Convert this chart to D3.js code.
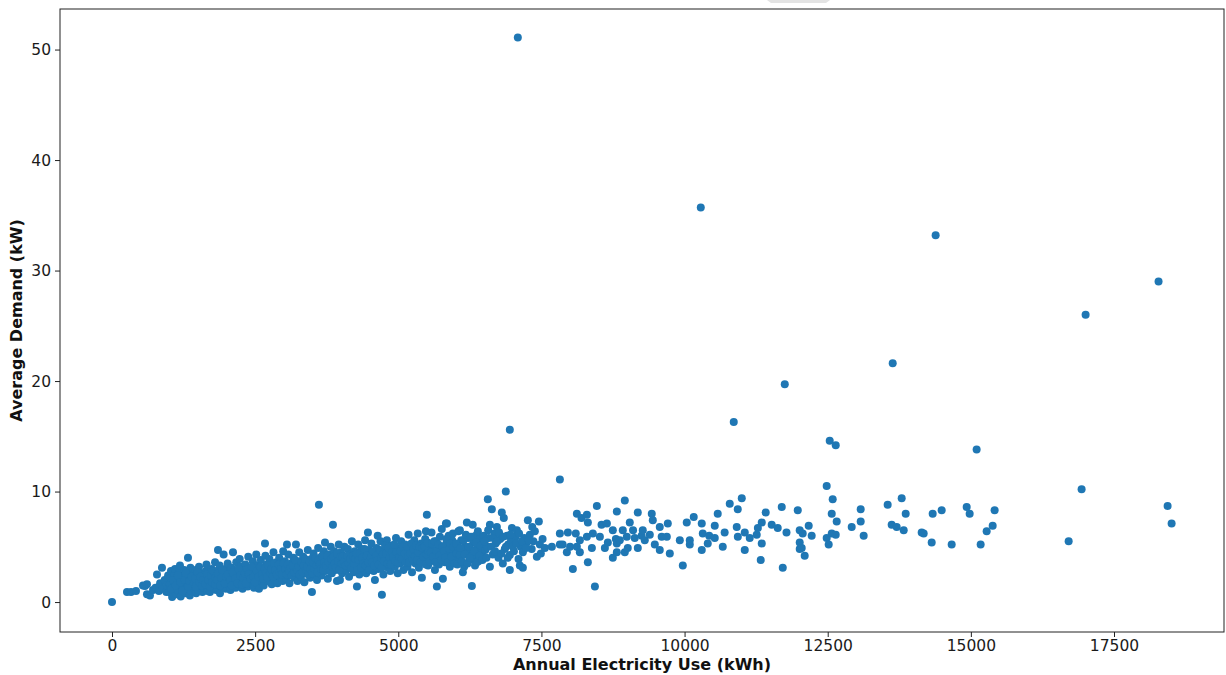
<!DOCTYPE html>
<html><head><meta charset="utf-8">
<script src="https://cdn.jsdelivr.net/npm/d3@7"></script>
<style>body{margin:0;background:#fff} svg{display:block} text{font-family:"DejaVu Sans",sans-serif}</style>
</head><body><svg id="c" width="1226" height="675"></svg>
<script>
// [Annual Electricity Use (kWh), Average Demand (kW)]
const lowPoints = [
[0,0],[262,0.9],[332,0.9],[419,1.0],[541,1.5],[576,1.45],[611,1.6],[611,0.7],[663,0.6],[716,1.1],[760,1.3],[786,2.5],[820,1.0],[840,1.7],[873,3.1],[890,1.2],[920,2.0],[950,0.9],[960,1.5],[980,2.4]
];
const densePoints = [
[1000,0.9],[1010,1.6],[1020,2.2],[1030,2.8],[1050,0.45],[1070,1.3],[1080,1.9],[1090,2.5],[1100,3.0],[1120,0.7],[1140,1.1],[1160,1.6],[1170,2.1],[1180,2.7],[1187,3.3],[1200,0.5],[1220,1.4],[1240,1.9],[1250,2.4],[1260,2.9],[1280,0.8],[1300,1.2],[1310,1.7],[1320,2.2],[1327,4.0],[1340,2.7],[1360,0.6],[1370,3.1],[1380,1.0],[1400,1.5],[1410,2.0],[1420,2.5],[1440,1.2],[1460,2.9],[1470,0.8],[1480,1.8],[1490,2.3],
[1510,1.1],[1520,3.2],[1540,1.5],[1550,2.0],[1560,2.6],[1580,0.9],[1600,1.3],[1610,1.8],[1620,2.3],[1640,2.8],[1650,3.4],[1670,1.0],[1690,1.6],[1700,2.1],[1711,0.9],[1720,2.6],[1740,3.0],[1760,1.3],[1780,1.9],[1790,2.4],[1800,3.6],[1820,1.1],[1830,2.8],[1851,4.7],[1860,1.6],[1870,2.2],[1880,3.3],[1886,0.8],[1900,2.7],[1920,1.4],[1940,1.9],[1950,4.3],[1960,2.5],[1980,3.0],[1990,1.2],
[2010,2.1],[2020,3.5],[2040,1.6],[2050,2.7],[2070,1.1],[2080,3.1],[2100,2.3],[2113,4.5],[2120,1.8],[2140,2.9],[2160,1.3],[2170,3.6],[2180,2.2],[2200,2.6],[2220,1.6],[2230,3.9],[2250,3.2],[2260,2.0],[2280,1.2],[2300,2.8],[2310,1.9],[2330,3.4],[2350,2.4],[2370,1.4],[2380,4.1],[2400,2.1],[2410,3.0],[2430,1.7],[2450,2.6],[2460,3.7],[2480,1.3],[2490,2.9],
[2510,2.2],[2520,4.3],[2540,3.3],[2550,1.8],[2567,1.2],[2580,2.6],[2600,3.8],[2610,2.0],[2630,3.0],[2650,1.5],[2660,2.5],[2672,5.3],[2680,4.2],[2700,3.4],[2720,1.9],[2740,2.8],[2750,3.9],[2770,2.3],[2790,1.6],[2800,3.2],[2820,4.5],[2840,2.6],[2860,2.0],[2870,3.6],[2890,1.7],[2900,2.9],[2920,4.0],[2940,2.3],[2960,3.3],[2980,1.9],[2990,4.6],
[3010,2.7],[3020,3.7],[3040,2.1],[3056,5.2],[3060,3.1],[3080,4.3],[3100,1.7],[3110,2.5],[3130,3.5],[3150,2.9],[3170,4.0],[3190,2.2],[3213,5.2],[3220,3.3],[3240,1.9],[3250,2.7],[3270,4.5],[3290,3.7],[3300,2.3],[3320,3.0],[3340,4.1],[3360,1.8],[3380,2.6],[3400,3.5],[3420,4.7],[3440,2.9],[3460,2.2],[3480,3.9],[3492,0.9],[3500,3.2],
[3520,4.4],[3540,2.5],[3560,3.6],[3580,2.0],[3600,4.9],[3614,8.8],[3620,3.0],[3640,4.0],[3660,2.4],[3680,3.4],[3700,4.6],[3720,5.4],[3730,2.8],[3750,3.8],[3770,2.1],[3790,4.3],[3800,3.1],[3820,5.0],[3840,2.6],[3859,7.0],[3860,3.6],[3880,4.6],[3900,2.9],[3920,4.0],[3929,1.9],[3940,3.3],[3960,5.2],[3981,2.0],[3990,3.8],
[4000,4.5],[4020,2.6],[4040,3.2],[4060,5.0],[4070,4.0],[4090,2.9],[4100,3.6],[4120,4.8],[4140,2.3],[4150,3.1],[4170,4.3],[4190,5.5],[4200,3.7],[4220,2.7],[4240,4.6],[4260,3.3],[4278,1.4],[4290,4.1],[4300,5.2],[4320,2.5],[4340,3.6],[4360,4.8],[4380,3.0],[4400,4.2],[4420,5.6],[4440,2.6],[4460,3.8],[4470,6.3],[4490,4.7],
[4510,3.2],[4530,5.3],[4550,4.1],[4570,2.8],[4592,2.0],[4600,3.6],[4620,4.9],[4640,6.0],[4650,3.0],[4670,4.3],[4690,5.5],[4714,0.65],[4720,3.5],[4740,2.5],[4760,4.7],[4780,3.9],[4800,5.6],[4820,3.1],[4840,4.4],[4860,2.8],[4880,5.1],[4900,3.7],[4920,4.6],[4940,3.2],[4960,5.8],[4980,4.0],[4990,2.6],
[5010,4.9],[5030,3.5],[5050,5.5],[5070,4.3],[5090,2.9],[5100,3.9],[5120,5.2],[5140,4.6],[5160,3.2],[5180,6.1],[5200,3.8],[5220,4.9],[5240,2.7],[5260,4.3],[5280,5.6],[5300,3.5],[5320,4.7],[5340,6.2],[5360,3.1],[5380,4.0],[5400,5.3],[5412,2.2],[5430,4.5],[5450,3.6],[5470,5.7],[5482,6.4],[5499,7.9],[5500,4.9],
[5520,3.3],[5540,4.2],[5560,5.1],[5580,6.3],[5600,3.8],[5620,4.7],[5640,2.9],[5660,5.5],[5674,1.4],[5690,4.1],[5710,3.4],[5727,5.9],[5740,4.9],[5760,6.6],[5779,2.1],[5790,3.9],[5814,3.6],[5830,5.2],[5832,7.1],[5849,7.1],[5860,4.4],[5880,6.0],[5900,3.2],[5920,4.8],[5940,5.6],[5954,6.2],[5970,3.9],[5990,4.5]
];
const denseCorePoints = [
[1035,1.2],[1065,2.0],[1110,1.5],[1150,2.4],[1195,1.8],[1230,1.0],[1270,2.0],[1290,2.6],[1330,1.4],[1350,1.9],[1390,2.3],[1430,1.7],[1450,2.1],[1465,1.4],[1495,2.7],
[1525,1.8],[1545,2.3],[1575,1.5],[1590,2.0],[1630,1.6],[1660,2.5],[1680,2.0],[1710,1.4],[1730,2.4],[1750,1.8],[1770,2.8],[1800,1.6],[1810,2.2],[1840,2.0],[1850,2.6],[1890,1.5],[1910,2.2],[1930,2.9],[1970,1.7],[1995,2.3],
[2025,2.5],[2060,2.0],[2090,1.5],[2110,2.7],[2150,2.1],[2190,1.7],[2210,3.0],[2240,2.4],[2270,1.6],[2290,2.2],[2320,2.6],[2340,1.7],[2360,3.0],[2390,2.5],[2420,2.1],[2440,3.2],[2470,2.3],[2495,1.8],
[2530,2.8],[2560,2.3],[2590,3.2],[2620,2.5],[2640,2.1],[2670,3.0],[2690,2.6],[2710,2.3],[2730,3.3],[2760,2.7],[2780,3.0],[2810,2.3],[2830,3.5],[2850,2.9],[2880,2.5],[2910,3.4],[2930,2.7],[2950,3.0],[2970,2.5],[2995,3.5],
[3030,3.0],[3050,2.5],[3070,3.4],[3090,2.8],[3120,3.1],[3140,2.4],[3160,3.3],[3180,2.7],[3200,3.8],[3230,2.9],[3260,3.2],[3280,2.5],[3310,3.6],[3330,2.7],[3350,3.3],[3370,3.9],[3390,2.9],[3410,3.2],[3430,2.5],[3450,3.7],[3470,3.0],[3495,2.6],
[3510,3.6],[3530,3.0],[3550,4.0],[3570,3.3],[3590,2.7],[3610,3.8],[3630,3.4],[3650,3.0],[3670,4.2],[3690,2.9],[3710,3.6],[3740,3.3],[3760,4.2],[3780,3.6],[3810,2.8],[3830,3.9],[3850,3.2],[3870,4.1],[3890,3.5],[3910,3.1],[3930,4.4],[3950,3.7],[3970,2.9],[3995,4.1],
[4010,3.5],[4030,4.1],[4050,3.7],[4080,3.3],[4110,4.2],[4130,3.5],[4160,3.9],[4180,3.1],[4210,4.2],[4230,3.5],[4250,3.9],[4270,4.4],[4280,2.9],[4310,3.8],[4330,4.4],[4350,3.1],[4370,4.0],[4390,3.5],[4410,4.8],[4430,3.3],[4450,4.2],[4480,3.6],[4495,2.9],
[4520,4.0],[4540,3.6],[4560,4.6],[4580,3.3],[4610,4.2],[4630,3.8],[4660,3.4],[4680,4.7],[4700,4.0],[4710,3.1],[4730,4.3],[4750,3.7],[4770,5.1],[4790,4.4],[4810,3.5],[4830,4.9],[4850,4.0],[4870,3.4],[4890,4.5],[4910,4.1],[4930,5.2],[4950,3.7],[4970,4.5],[4995,3.6],
[5020,4.1],[5040,4.6],[5060,3.9],[5080,5.0],[5110,4.4],[5130,3.6],[5150,5.0],[5170,4.1],[5190,3.6],[5210,4.4],[5230,5.3],[5250,3.9],[5270,4.8],[5290,4.1],[5310,5.1],[5330,3.8],[5350,4.5],[5370,5.0],[5390,3.6],[5420,4.9],[5440,4.1],[5460,5.0],[5480,3.4],[5495,4.3],
[5510,5.4],[5530,4.6],[5550,3.7],[5570,4.5],[5590,5.3],[5610,4.1],[5630,5.5],[5650,3.6],[5670,4.6],[5700,5.2],[5720,4.2],[5750,3.8],[5770,5.0],[5800,4.6],[5820,4.0],[5840,5.7],[5870,3.6],[5890,4.8],[5910,5.3],[5930,4.1],[5960,5.0],[5980,3.5],
[6020,4.4],[6040,5.0],[6060,3.9],[6100,5.6],[6120,4.6],[6150,3.2],[6170,5.0],[6200,4.4],[6220,5.8],[6240,3.8],[6260,4.8],[6290,3.9],[6310,5.4],[6330,4.3],[6350,6.0],[6380,4.9],[6400,3.7],[6430,5.8],[6460,4.5],[6480,5.4]
];
const midPoints = [
[6010,5.3],[6030,3.4],[6050,6.4],[6076,6.5],[6076,4.25],[6090,4.9],[6110,3.7],[6128,2.7],[6140,5.6],[6160,4.3],[6180,6.1],[6198,7.2],[6210,3.5],[6230,5.0],[6250,4.0],[6270,5.9],[6285,1.45],[6300,7.0],[6320,4.6],[6340,3.3],[6360,5.4],[6373,3.6],[6390,6.4],[6420,4.2],[6440,5.1],[6470,3.8],[6490,6.0],
[6520,4.7],[6547,5.0],[6564,9.3],[6580,5.8],[6600,3.2],[6600,7.0],[6634,8.4],[6650,4.3],[6680,6.2],[6700,5.3],[6722,6.8],[6750,4.0],[6780,5.7],[6808,8.1],[6826,3.5],[6843,7.6],[6860,4.8],[6878,10.0],[6900,6.0],[6920,5.2],[6948,15.6],[6948,4.25],[6948,2.9],[6970,5.6],[6984,6.7],
[7020,4.6],[7050,5.9],[7071,6.5],[7088,51.1],[7100,3.9],[7123,3.3],[7140,5.0],[7176,4.5],[7176,3.1],[7200,5.8],[7245,5.4],[7263,7.4],[7298,6.1],[7330,4.8],[7360,5.5],[7385,6.4],[7420,4.1],[7455,7.3],[7473,5.2],[7490,4.4],[7520,5.7],[7560,4.9],
[6510,5.5],[6540,4.0],[6570,6.5],[6620,5.0],[6660,5.8],[6690,4.6],[6730,5.5],[6760,6.3],[6800,4.4],[6830,5.9],[6880,5.0],[6910,4.0],[6960,6.1],[7000,5.0],[7060,5.3],[7110,6.2],[7160,5.5],[7230,4.9],[7280,5.6],[7340,6.8]
];
const highPoints = [
[7682,5.0],[7822,11.1],[7822,6.2],[7822,5.2],[7870,5.2],[7944,4.5],[7962,6.3],[8000,5.0],[8049,3.0],[8100,6.2],[8119,8.0],[8119,5.0],[8171,5.6],[8171,4.5],[8200,7.6],[8294,7.9],[8294,5.9],[8311,7.2],[8311,3.6],[8381,4.9],[8398,6.2],[8434,1.4],[8468,8.7],[8521,5.9],[8550,7.0],[8608,4.9],[8643,7.1],[8660,5.4],[8747,6.5],[8747,4.0],[8800,5.7],[8817,8.2],[8817,5.3],[8817,4.5],[8869,5.6],[8921,6.5],[8956,9.2],[8956,4.5],[8991,5.9],[9008,4.9],
[9043,7.2],[9100,6.5],[9130,5.8],[9183,8.1],[9183,4.9],[9250,6.0],[9270,6.5],[9305,5.6],[9393,6.1],[9427,8.0],[9445,7.4],[9480,5.2],[9567,6.8],[9567,4.7],[9600,5.9],[9690,5.9],[9707,7.1],[9742,4.4],[9917,5.6],[9969,3.3],[10038,7.2],[10091,5.2],[10091,5.6],[10160,7.7],[10283,35.7],[10300,7.1],[10300,4.7],[10318,6.2],[10405,5.3],[10430,6.0],[10527,5.8],[10527,6.9],[10579,8.0],
[10667,5.0],[10700,6.3],[10789,8.9],[10859,16.3],[10911,6.8],[10929,8.4],[10930,5.9],[10999,9.4],[11051,6.3],[11051,4.7],[11138,5.8],[11260,6.1],[11280,6.7],[11330,3.8],[11348,7.2],[11348,5.3],[11417,8.1],[11522,7.0],[11627,6.7],[11697,8.6],[11715,3.1],[11750,19.7],[11780,6.3],[11977,8.3],[12011,6.5],[12011,4.8],[12011,5.4],[12046,4.9],[12063,6.2],[12098,4.2],
[12168,6.9],[12220,6.0],[12482,10.5],[12482,5.8],[12517,5.2],[12535,14.6],[12570,8.0],[12570,6.2],[12587,9.3],[12640,14.2],[12640,6.1],[12657,7.3],[12919,6.8],[13076,8.4],[13076,7.3],[13128,6.0],[13547,8.8],[13617,7.0],[13635,21.6],[13705,6.8],[13792,9.4],[13827,6.5],[13862,8.0],[14141,6.3],[14176,6.2],[14316,5.4],[14333,8.0],[14385,33.2],[14490,8.3],[14665,5.2],[14927,8.6],[14979,8.0],[15101,13.8],[15171,5.2],[15276,6.4],[15381,6.9],[15415,8.3],[16708,5.5],[16934,10.2],[17004,26.0],[18278,29.0],[18436,8.7],[18506,7.1]
];
const xTicks = [0,2500,5000,7500,10000,12500,15000,17500];
const yTicks = [0,10,20,30,40,50];
const xLabel = "Annual Electricity Use (kWh)";
const yLabel = "Average Demand (kW)";
const pointColor = "#1f77b4";

const points = [...lowPoints, ...densePoints, ...denseCorePoints, ...midPoints, ...highPoints];
const svg = d3.select("#c");
const L = 60, R = 1224, T = 9, B = 632;
const x = d3.scaleLinear().domain([-908, 19421]).range([L, R]);
const y = d3.scaleLinear().domain([-2.71, 53.67]).range([B, T]);

// small grey artifact at top edge of the screenshot
svg.append("path").attr("d","M767,0 L830,0 L826,3 L771,3 Z").attr("fill","#e3e3e3");

svg.append("g").selectAll("circle").data(points).join("circle")
  .attr("cx", d => x(d[0])).attr("cy", d => y(d[1])).attr("r", 4)
  .attr("fill", pointColor);

const xa = svg.append("g").attr("transform", `translate(0,${B})`)
  .call(d3.axisBottom(x).tickValues(xTicks).tickFormat(d3.format("d")).tickSize(5).tickPadding(3));
const ya = svg.append("g").attr("transform", `translate(${L},0)`)
  .call(d3.axisLeft(y).tickValues(yTicks).tickFormat(d3.format("d")).tickSize(5).tickPadding(4));
[xa, ya].forEach(a => {
  a.select(".domain").remove();
  a.selectAll("text").attr("font-size", "15.5px").attr("fill", "#1a1a1a").attr("font-family", "DejaVu Sans");
  a.selectAll("line").attr("stroke", "#222");
});

svg.append("rect").attr("x", L).attr("y", T).attr("width", R - L).attr("height", B - T)
  .attr("fill", "none").attr("stroke", "#222").attr("stroke-width", 1);

svg.append("text").attr("x", (L + R) / 2).attr("y", 665).attr("text-anchor", "middle")
  .attr("dominant-baseline", "middle").attr("font-weight", "bold").attr("font-size", "16px")
  .attr("fill", "#111").text(xLabel);
svg.append("text").attr("transform", `translate(17,${(T + B) / 2}) rotate(-90)`).attr("text-anchor", "middle")
  .attr("dominant-baseline", "middle").attr("font-weight", "bold").attr("font-size", "16px")
  .attr("fill", "#111").text(yLabel);
</script></body></html>
